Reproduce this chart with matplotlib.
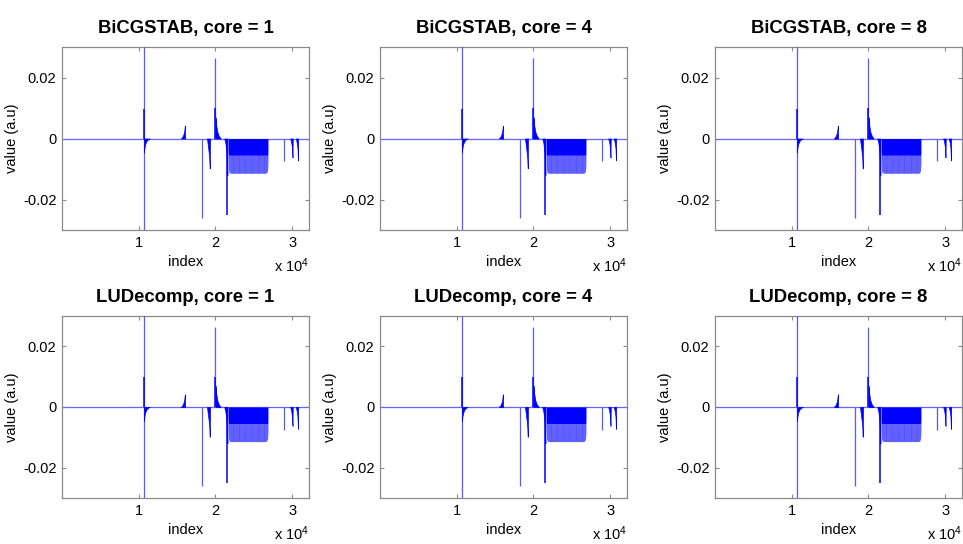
import matplotlib
matplotlib.use("Agg")
import matplotlib.pyplot as plt
import numpy as np

plt.rcParams['font.family'] = ['Liberation Sans', 'DejaVu Sans']
plt.rcParams['mathtext.default'] = 'regular'

# ---- data ----
titles = ["BiCGSTAB, core = 1", "BiCGSTAB, core = 4", "BiCGSTAB, core = 8",
          "LUDecomp, core = 1", "LUDecomp, core = 4", "LUDecomp, core = 8"]

baseline_idx = [0, 32200]
baseline_val = [0.0, 0.0]

# thin spikes: index, value
spike_idx = [10650, 10650, 18300, 20000, 29000]
spike_val = [0.032, -0.032, -0.026, 0.0265, -0.0075]

# strong spikes (thicker lines)
strong_idx = [10650, 20000, 21560]
strong_val = [0.0098, 0.0100, -0.0250]

# filled lobes (index arrays, value arrays)
lobe_a_idx = [10680, 10750, 10850, 11000, 11200, 11450]
lobe_a_val = [-0.0046, -0.0030, -0.0018, -0.0009, -0.0003, 0.0]

lobe_b_idx = [15500, 15700, 15850, 15950, 16020, 16060]
lobe_b_val = [0.0, 0.0006, 0.0015, 0.0027, 0.0042, 0.0]

lobe_c_idx = [18900, 19000, 19100, 19200, 19260, 19300]
lobe_c_val = [0.0, -0.0020, -0.0040, -0.0065, -0.0098, 0.0]

lobe_d_idx = [20010, 20100, 20250, 20450, 20700]
lobe_d_val = [0.0070, 0.0045, 0.0022, 0.0008, 0.0]

lobe_e_idx = [21150, 21300, 21420, 21520, 21560]
lobe_e_val = [0.0, -0.0015, -0.0040, -0.0080, -0.0120]

lobe_f_idx = [29750, 29880, 29980, 30050, 30080]
lobe_f_val = [0.0, -0.0012, -0.0030, -0.0062, 0.0]

lobe_g_idx = [30480, 30600, 30700, 30760, 30790]
lobe_g_val = [0.0, -0.0013, -0.0032, -0.0072, 0.0]

lobes_idx = [lobe_a_idx, lobe_b_idx, lobe_c_idx, lobe_d_idx, lobe_e_idx, lobe_f_idx, lobe_g_idx]
lobes_val = [lobe_a_val, lobe_b_val, lobe_c_val, lobe_d_val, lobe_e_val, lobe_f_val, lobe_g_val]

# dense oscillating block
block_idx = [21650, 21700, 21800, 22000, 26500, 26700, 26800, 26850]
block_dark = [-0.0040, -0.0055, -0.0055, -0.0055, -0.0055, -0.0055, -0.0055, -0.0045]
block_low = [-0.0080, -0.0103, -0.0112, -0.0114, -0.0114, -0.0112, -0.0103, -0.0080]
stripe_idx = [22300, 23100, 23900, 24700, 25500, 26300]
stripe_val = [-0.0112, -0.0112, -0.0112, -0.0112, -0.0112, -0.0112]

xticks = [10000, 20000, 30000]
xticklabels = ['1', '2', '3']
yticks = [-0.02, 0.0, 0.02]
yticklabels = ['-0.02', '0', '0.02']

# ---- layout (pixels) ----
W, H = 963, 544
fig = plt.figure(figsize=(W / 100, H / 100), dpi=100)
col_left = [62, 380, 715]
ax_w = 247
row_top = [47, 316]
row_bot = [230, 498]

gray = '#8a8a8a'
for k, title in enumerate(titles):
    r, c = divmod(k, 3)
    ax = fig.add_axes([col_left[c] / W, 1 - row_bot[r] / H, ax_w / W,
                       (row_bot[r] - row_top[r]) / H])
    ax.plot(baseline_idx, baseline_val, color=(0.4, 0.4, 1.0), lw=0.9, zorder=2)
    ax.vlines(spike_idx, 0, spike_val, color=(0.35, 0.35, 1.0), lw=0.9, zorder=3)
    ax.vlines(strong_idx, 0, strong_val, color='blue', lw=1.1, zorder=4)
    for li, lv in zip(lobes_idx, lobes_val):
        ax.fill_between(li, 0, lv, color='blue', lw=0.5, zorder=3)
    ax.fill_between(block_idx, block_dark, block_low, color=(0.38, 0.38, 1.0),
                    lw=0, zorder=3)
    ax.fill_between(block_idx, 0, block_dark, color='blue', lw=0, zorder=4)
    ax.vlines(stripe_idx, -0.0055, stripe_val, color=(0.25, 0.25, 1.0), lw=0.5,
              alpha=0.5, zorder=4)

    ax.set_xlim(0, 32200)
    ax.set_ylim(-0.03, 0.03)
    ax.set_xticks(xticks)
    ax.set_xticklabels(xticklabels)
    ax.set_yticks(yticks)
    ax.set_yticklabels(yticklabels)
    ax.tick_params(direction='in', length=3, width=0.8, color=gray,
                   labelsize=10.5, top=True, right=True, pad=4)
    for s in ax.spines.values():
        s.set_color(gray)
        s.set_linewidth(0.9)
    ax.set_title(title, fontsize=13.3, fontweight='bold', pad=10)
    ax.set_xlabel('index', fontsize=10.5, labelpad=4)
    ax.set_ylabel('value (a.u)', fontsize=10.5, labelpad=3)
    ax.annotate('x 10$^{4}$', xy=(1, 0), xycoords='axes fraction',
                xytext=(0, -26), textcoords='offset points',
                ha='right', va='center', fontsize=10.5)

fig.savefig('out.png', dpi=100)
